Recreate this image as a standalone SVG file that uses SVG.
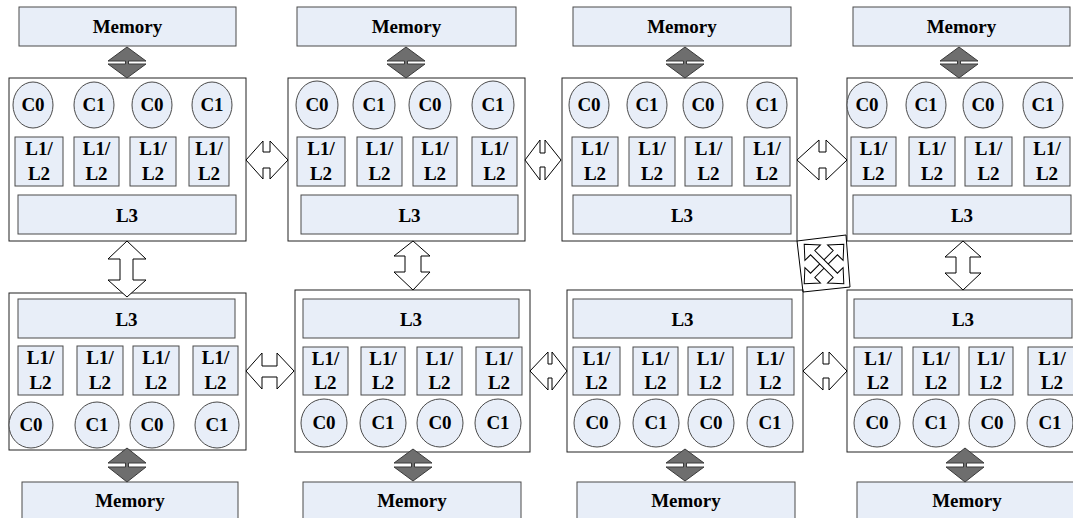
<svg xmlns="http://www.w3.org/2000/svg" width="1073" height="518" viewBox="0 0 1073 518">
<style>
.node{fill:#ffffff;stroke:#222222;stroke-width:1}
.box{fill:#e8eef8;stroke:#4a4a4a;stroke-width:1}
.cir{fill:#e8eef8;stroke:#4a4a4a;stroke-width:1}
.t{font-family:"Liberation Serif","Times New Roman",serif;font-weight:bold;font-size:19px;fill:#000;text-anchor:middle}
.dm{fill:#6e6e6e;stroke:#3a3a3a;stroke-width:1}
.ar{fill:#ffffff;stroke:#000000;stroke-width:1}
</style>
<rect width="1073" height="518" fill="#ffffff"/>

<!-- top memories -->
<g id="mem-t1"><rect class="box" x="19" y="7" width="217" height="39"/><text class="t" x="127.5" y="33">Memory</text></g>
<g id="mem-t2"><rect class="box" x="297" y="7" width="219" height="39"/><text class="t" x="406.5" y="33">Memory</text></g>
<g id="mem-t3"><rect class="box" x="573" y="7" width="218" height="39"/><text class="t" x="682" y="33">Memory</text></g>
<g id="mem-t4"><rect class="box" x="853" y="7" width="217" height="39"/><text class="t" x="961.5" y="33">Memory</text></g>

<!-- bottom memories -->
<g id="mem-b1"><rect class="box" x="22" y="482" width="216" height="45"/><text class="t" x="130" y="507">Memory</text></g>
<g id="mem-b2"><rect class="box" x="303" y="482" width="218" height="45"/><text class="t" x="412" y="507">Memory</text></g>
<g id="mem-b3"><rect class="box" x="577" y="482" width="218" height="45"/><text class="t" x="686" y="507">Memory</text></g>
<g id="mem-b4"><rect class="box" x="857" y="482" width="220" height="45"/><text class="t" x="967" y="507">Memory</text></g>

<!-- top node 1 -->
<g id="node-t1">
<rect class="node" x="9" y="78" width="237" height="163"/>
<ellipse class="cir" cx="33" cy="105" rx="20" ry="23"/><text class="t" x="33" y="111">C0</text>
<ellipse class="cir" cx="94" cy="105" rx="20" ry="23"/><text class="t" x="94" y="111">C1</text>
<ellipse class="cir" cx="152" cy="105" rx="20" ry="23"/><text class="t" x="152" y="111">C0</text>
<ellipse class="cir" cx="212" cy="105" rx="20" ry="23"/><text class="t" x="212" y="111">C1</text>
<rect class="box" x="15" y="137" width="48" height="49"/><text class="t" x="39" y="155">L1/</text><text class="t" x="39" y="180">L2</text>
<rect class="box" x="74" y="137" width="45" height="49"/><text class="t" x="96.5" y="155">L1/</text><text class="t" x="96.5" y="180">L2</text>
<rect class="box" x="130" y="137" width="46" height="49"/><text class="t" x="153" y="155">L1/</text><text class="t" x="153" y="180">L2</text>
<rect class="box" x="189" y="137" width="40" height="49"/><text class="t" x="209" y="155">L1/</text><text class="t" x="209" y="180">L2</text>
<rect class="box" x="18" y="195" width="218" height="39"/><text class="t" x="127" y="222">L3</text>
</g>

<!-- top node 2 -->
<g id="node-t2">
<rect class="node" x="288" y="78" width="237" height="163"/>
<ellipse class="cir" cx="317" cy="105" rx="21" ry="24"/><text class="t" x="317" y="111">C0</text>
<ellipse class="cir" cx="374" cy="105" rx="21" ry="24"/><text class="t" x="374" y="111">C1</text>
<ellipse class="cir" cx="430" cy="105" rx="21" ry="24"/><text class="t" x="430" y="111">C0</text>
<ellipse class="cir" cx="493" cy="105" rx="21" ry="24"/><text class="t" x="493" y="111">C1</text>
<rect class="box" x="297" y="137" width="48" height="49"/><text class="t" x="321" y="155">L1/</text><text class="t" x="321" y="180">L2</text>
<rect class="box" x="357" y="137" width="45" height="49"/><text class="t" x="379.5" y="155">L1/</text><text class="t" x="379.5" y="180">L2</text>
<rect class="box" x="413" y="137" width="44" height="49"/><text class="t" x="435" y="155">L1/</text><text class="t" x="435" y="180">L2</text>
<rect class="box" x="472" y="137" width="45" height="49"/><text class="t" x="494.5" y="155">L1/</text><text class="t" x="494.5" y="180">L2</text>
<rect class="box" x="301" y="195" width="217" height="39"/><text class="t" x="409.5" y="222">L3</text>
</g>

<!-- top node 3 -->
<g id="node-t3">
<rect class="node" x="562" y="78" width="235" height="163"/>
<ellipse class="cir" cx="589" cy="105" rx="20" ry="23"/><text class="t" x="589" y="111">C0</text>
<ellipse class="cir" cx="647" cy="105" rx="20" ry="23"/><text class="t" x="647" y="111">C1</text>
<ellipse class="cir" cx="703" cy="105" rx="20" ry="23"/><text class="t" x="703" y="111">C0</text>
<ellipse class="cir" cx="767" cy="105" rx="20" ry="23"/><text class="t" x="767" y="111">C1</text>
<rect class="box" x="572" y="137" width="46" height="49"/><text class="t" x="595" y="155">L1/</text><text class="t" x="595" y="180">L2</text>
<rect class="box" x="629" y="137" width="46" height="49"/><text class="t" x="652" y="155">L1/</text><text class="t" x="652" y="180">L2</text>
<rect class="box" x="685" y="137" width="47" height="49"/><text class="t" x="708.5" y="155">L1/</text><text class="t" x="708.5" y="180">L2</text>
<rect class="box" x="744" y="137" width="46" height="49"/><text class="t" x="767" y="155">L1/</text><text class="t" x="767" y="180">L2</text>
<rect class="box" x="573" y="195" width="218" height="39"/><text class="t" x="682" y="222">L3</text>
</g>

<!-- top node 4 -->
<g id="node-t4">
<rect class="node" x="847" y="78" width="240" height="163"/>
<ellipse class="cir" cx="867" cy="105" rx="20" ry="23"/><text class="t" x="867" y="111">C0</text>
<ellipse class="cir" cx="926" cy="105" rx="20" ry="23"/><text class="t" x="926" y="111">C1</text>
<ellipse class="cir" cx="983" cy="105" rx="20" ry="23"/><text class="t" x="983" y="111">C0</text>
<ellipse class="cir" cx="1043" cy="105" rx="20" ry="23"/><text class="t" x="1043" y="111">C1</text>
<rect class="box" x="851" y="137" width="45" height="49"/><text class="t" x="873.5" y="155">L1/</text><text class="t" x="873.5" y="180">L2</text>
<rect class="box" x="909" y="137" width="46" height="49"/><text class="t" x="932" y="155">L1/</text><text class="t" x="932" y="180">L2</text>
<rect class="box" x="965" y="137" width="47" height="49"/><text class="t" x="988.5" y="155">L1/</text><text class="t" x="988.5" y="180">L2</text>
<rect class="box" x="1024" y="137" width="46" height="49"/><text class="t" x="1047" y="155">L1/</text><text class="t" x="1047" y="180">L2</text>
<rect class="box" x="853" y="195" width="218" height="39"/><text class="t" x="962" y="222">L3</text>
</g>

<!-- bottom node 1 -->
<g id="node-b1">
<rect class="node" x="9" y="293" width="237" height="157"/>
<rect class="box" x="18" y="299" width="217" height="39"/><text class="t" x="126.5" y="326">L3</text>
<rect class="box" x="18" y="346" width="45" height="49"/><text class="t" x="40.5" y="364">L1/</text><text class="t" x="40.5" y="389">L2</text>
<rect class="box" x="77" y="346" width="46" height="49"/><text class="t" x="100" y="364">L1/</text><text class="t" x="100" y="389">L2</text>
<rect class="box" x="133" y="346" width="46" height="49"/><text class="t" x="156" y="364">L1/</text><text class="t" x="156" y="389">L2</text>
<rect class="box" x="193" y="346" width="45" height="49"/><text class="t" x="215.5" y="364">L1/</text><text class="t" x="215.5" y="389">L2</text>
<ellipse class="cir" cx="31" cy="425" rx="22" ry="23"/><text class="t" x="31" y="431">C0</text>
<ellipse class="cir" cx="97" cy="425" rx="22" ry="23"/><text class="t" x="97" y="431">C1</text>
<ellipse class="cir" cx="152" cy="425" rx="22" ry="23"/><text class="t" x="152" y="431">C0</text>
<ellipse class="cir" cx="217" cy="425" rx="22" ry="23"/><text class="t" x="217" y="431">C1</text>
</g>

<!-- bottom node 2 -->
<g id="node-b2">
<rect class="node" x="295" y="290" width="235" height="162"/>
<rect class="box" x="303" y="299" width="216" height="39"/><text class="t" x="411" y="326">L3</text>
<rect class="box" x="303" y="347" width="45" height="48"/><text class="t" x="325.5" y="365">L1/</text><text class="t" x="325.5" y="389">L2</text>
<rect class="box" x="361" y="347" width="44" height="48"/><text class="t" x="383" y="365">L1/</text><text class="t" x="383" y="389">L2</text>
<rect class="box" x="417" y="347" width="45" height="48"/><text class="t" x="439.5" y="365">L1/</text><text class="t" x="439.5" y="389">L2</text>
<rect class="box" x="476" y="347" width="46" height="48"/><text class="t" x="499" y="365">L1/</text><text class="t" x="499" y="389">L2</text>
<ellipse class="cir" cx="324" cy="423" rx="23" ry="24"/><text class="t" x="324" y="429">C0</text>
<ellipse class="cir" cx="383" cy="423" rx="23" ry="24"/><text class="t" x="383" y="429">C1</text>
<ellipse class="cir" cx="440" cy="423" rx="23" ry="24"/><text class="t" x="440" y="429">C0</text>
<ellipse class="cir" cx="498" cy="423" rx="23" ry="24"/><text class="t" x="498" y="429">C1</text>
</g>

<!-- bottom node 3 -->
<g id="node-b3">
<rect class="node" x="567" y="290" width="236" height="162"/>
<rect class="box" x="573" y="299" width="219" height="39"/><text class="t" x="682.5" y="326">L3</text>
<rect class="box" x="573" y="347" width="47" height="48"/><text class="t" x="596.5" y="365">L1/</text><text class="t" x="596.5" y="389">L2</text>
<rect class="box" x="633" y="347" width="45" height="48"/><text class="t" x="655.5" y="365">L1/</text><text class="t" x="655.5" y="389">L2</text>
<rect class="box" x="688" y="347" width="45" height="48"/><text class="t" x="710.5" y="365">L1/</text><text class="t" x="710.5" y="389">L2</text>
<rect class="box" x="747" y="347" width="47" height="48"/><text class="t" x="770.5" y="365">L1/</text><text class="t" x="770.5" y="389">L2</text>
<ellipse class="cir" cx="597" cy="423" rx="23" ry="24"/><text class="t" x="597" y="429">C0</text>
<ellipse class="cir" cx="656" cy="423" rx="23" ry="24"/><text class="t" x="656" y="429">C1</text>
<ellipse class="cir" cx="711" cy="423" rx="23" ry="24"/><text class="t" x="711" y="429">C0</text>
<ellipse class="cir" cx="770" cy="423" rx="23" ry="24"/><text class="t" x="770" y="429">C1</text>
</g>

<!-- bottom node 4 -->
<g id="node-b4">
<rect class="node" x="847" y="290" width="240" height="162"/>
<rect class="box" x="854" y="299" width="218" height="39"/><text class="t" x="963" y="326">L3</text>
<rect class="box" x="854" y="347" width="48" height="48"/><text class="t" x="878" y="365">L1/</text><text class="t" x="878" y="389">L2</text>
<rect class="box" x="913" y="347" width="46" height="48"/><text class="t" x="936" y="365">L1/</text><text class="t" x="936" y="389">L2</text>
<rect class="box" x="969" y="347" width="44" height="48"/><text class="t" x="991" y="365">L1/</text><text class="t" x="991" y="389">L2</text>
<rect class="box" x="1028" y="347" width="50" height="48"/><text class="t" x="1052" y="365">L1/</text><text class="t" x="1052" y="389">L2</text>
<ellipse class="cir" cx="877" cy="423" rx="23" ry="24"/><text class="t" x="877" y="429">C0</text>
<ellipse class="cir" cx="936" cy="423" rx="23" ry="24"/><text class="t" x="936" y="429">C1</text>
<ellipse class="cir" cx="992" cy="423" rx="23" ry="24"/><text class="t" x="992" y="429">C0</text>
<ellipse class="cir" cx="1050" cy="423" rx="23" ry="24"/><text class="t" x="1050" y="429">C1</text>
</g>

<g id="connectors">
<!-- memory links top -->
<path class="dm" d="M127,47 L146,61 L128.5,61 L128.5,64 L146,64 L127,78 L108,64 L125.5,64 L125.5,61 L108,61 Z"/>
<path class="dm" d="M406,47 L425,61 L407.5,61 L407.5,64 L425,64 L406,78 L387,64 L404.5,64 L404.5,61 L387,61 Z"/>
<path class="dm" d="M685,47 L704,61 L686.5,61 L686.5,64 L704,64 L685,78 L666,64 L683.5,64 L683.5,61 L666,61 Z"/>
<path class="dm" d="M959,47 L978,61 L960.5,61 L960.5,64 L978,64 L959,78 L940,64 L957.5,64 L957.5,61 L940,61 Z"/>
<!-- memory links bottom -->
<path class="dm" d="M127,448 L146,463 L128.5,463 L128.5,467 L146,467 L127,482 L108,467 L125.5,467 L125.5,463 L108,463 Z"/>
<path class="dm" d="M413,449 L432,463 L414.5,463 L414.5,467 L432,467 L413,481 L394,467 L411.5,467 L411.5,463 L394,463 Z"/>
<path class="dm" d="M685,449 L704,463 L686.5,463 L686.5,467 L704,467 L685,481 L666,467 L683.5,467 L683.5,463 L666,463 Z"/>
<path class="dm" d="M965,448 L984,463 L966.5,463 L966.5,467 L984,467 L965,482 L946,467 L963.5,467 L963.5,463 L946,463 Z"/>

<!-- horizontal links top row -->
<path class="ar" d="M246,160 L263,141 L263,152 L270,152 L270,141 L288,160 L270,179 L270,168 L263,168 L263,179 Z"/>
<path class="ar" d="M525,160 L540,140 L540,153 L545,153 L545,140 L561,160 L545,180 L545,167 L540,167 L540,180 Z"/>
<path class="ar" d="M797,160 L819,140 L819,152 L826,152 L826,140 L847,160 L826,180 L826,168 L819,168 L819,180 Z"/>
<!-- horizontal links bottom row -->
<path class="ar" d="M246,371 L262,353 L262,366 L277,366 L277,353 L294,371 L277,389 L277,377 L262,377 L262,389 Z"/>
<path class="ar" d="M530,371 L548,352 L548,364 L552,364 L552,352 L567,371 L552,390 L552,378 L548,378 L548,390 Z"/>
<path class="ar" d="M803,371 L823,352 L823,364 L829,364 L829,352 L847,371 L829,390 L829,378 L823,378 L823,390 Z"/>

<!-- vertical links -->
<path class="ar" d="M127,241 L146,259 L133,259 L133,280 L146,280 L127,297 L108,280 L120,280 L120,259 L108,259 Z"/>
<path class="ar" d="M413,241 L430,256 L421,256 L421,272 L430,272 L413,290 L394,272 L405,272 L405,256 L394,256 Z"/>
<path class="ar" d="M963,241 L981,257 L970,257 L970,273 L981,273 L963,290 L945,273 L956,273 L956,257 L945,257 Z"/>

<!-- crossed diagonal links -->
<polygon points="797,241 846,235 850,287 803,292" fill="none" stroke="#000" stroke-width="1"/>
<g transform="translate(824,264) rotate(-45)">
<path class="ar" d="M-28,0 L-16,-11 L-16,-3 L16,-3 L16,-11 L28,0 L16,11 L16,3 L-16,3 L-16,11 Z"/>
</g>
<g transform="translate(824,264) rotate(45)">
<path class="ar" d="M-28,0 L-16,-11 L-16,-3 L16,-3 L16,-11 L28,0 L16,11 L16,3 L-16,3 L-16,11 Z" fill="none"/>
</g>
</g>
</svg>
